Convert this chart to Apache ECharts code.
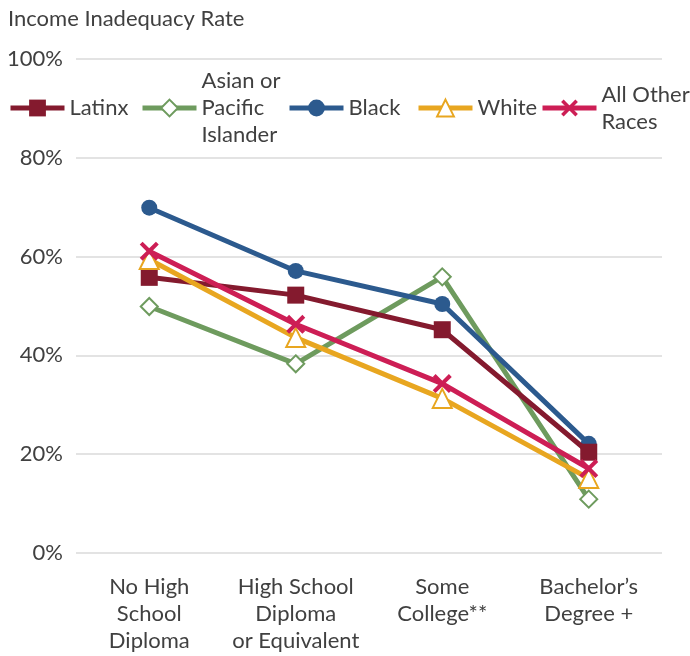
<!DOCTYPE html>
<html>
<head>
<meta charset="utf-8">
<script src="https://cdn.jsdelivr.net/npm/echarts@6/dist/echarts.min.js"></script>
<style>
  html, body { margin: 0; padding: 0; background: #fff; }
  #chart { width: 690px; height: 656px; }
</style>
</head>
<body>
<div id="chart"></div>
<script>
// Education levels along the x axis
const categories = [
  'No High\nSchool\nDiploma',
  'High School\nDiploma\nor Equivalent',
  'Some\nCollege**',
  'Bachelor\u2019s\nDegree +'
];

// Income inadequacy rate (%) by race/ethnicity
const latinx = [55.8, 52.2, 45.2, 20.4];
const asianPacificIslander = [49.9, 38.3, 55.9, 10.9];
const black = [69.9, 57.1, 50.4, 22.1];
const white = [59.4, 43.6, 31.3, 15.1];
const allOtherRaces = [61.1, 46.3, 34.3, 17.1];

const yTicks = [0, 20, 40, 60, 80, 100];

// Legend entries, in display order, with their wrapped labels
const legendOrder = ['Latinx', 'Asian or Pacific Islander', 'Black', 'White', 'All Other Races'];
const legendLabels = ['Latinx', 'Asian or\nPacific\nIslander', 'Black', 'White', 'All Other\nRaces'];
const legendHollow = [false, true, false, true, false];

const FONT = 'Lato, "Noto Sans", sans-serif';
const TEXT = '#404040';
const FS = 22;
const LH = 27;

const crossPath = 'path://M3,0 L10,7 L17,0 L20,3 L13,10 L20,17 L17,20 L10,13 L3,20 L0,17 L7,10 L0,3 Z';

function lineSeries(name, data, color, symbol, size, extra) {
  return Object.assign({
    name: name,
    type: 'line',
    data: data,
    symbol: symbol,
    symbolSize: size,
    showAllSymbol: true,
    lineStyle: { color: color, width: 5 },
    itemStyle: { color: color, borderWidth: 0 },
    emphasis: { disabled: true },
    animation: false
  }, extra || {});
}

// One legend block per entry so each can sit at its own spot on the row
const legendLeft = [8, 140, 287, 416, 540];
const ICON_MID = 108;
const legends = legendOrder.map(function (name, i) {
  const lines = legendLabels[i].split('\n').length;
  const lg = {
    data: [name],
    left: legendLeft[i],
    top: ICON_MID - (lines * LH) / 2,
    padding: 0,
    itemWidth: 54,
    itemHeight: 21,
    selectedMode: false,
    formatter: function () { return legendLabels[i]; },
    lineStyle: { width: 5 },
    textStyle: { fontFamily: FONT, fontSize: FS, color: TEXT, lineHeight: LH }
  };
  if (legendHollow[i]) lg.itemStyle = { borderWidth: 2.5 };
  return lg;
});

const chart = echarts.init(document.getElementById('chart'), null, { renderer: 'canvas' });

chart.setOption({
  backgroundColor: '#fff',
  textStyle: { fontFamily: FONT },
  title: {
    text: 'Income Inadequacy Rate',
    left: 6,
    top: 6,
    padding: [2, 2],
    textStyle: { fontFamily: FONT, fontSize: FS, fontWeight: 'normal', color: TEXT }
  },
  legend: legends,
  grid: {
    left: 76,
    right: 28,
    top: 59,
    bottom: 103,
    containLabel: false,
    outerBoundsMode: 'none'
  },
  xAxis: {
    type: 'category',
    data: categories,
    boundaryGap: true,
    axisLine: { show: false },
    axisTick: { show: false },
    axisLabel: {
      margin: 20,
      fontFamily: FONT,
      fontSize: FS,
      color: TEXT,
      lineHeight: LH,
      align: 'center',
      verticalAlign: 'top',
      interval: 0
    }
  },
  yAxis: {
    type: 'value',
    min: yTicks[0],
    max: yTicks[yTicks.length - 1],
    interval: 20,
    axisLine: { show: false },
    axisTick: { show: false },
    splitLine: { lineStyle: { color: '#e3e3e3', width: 2 } },
    axisLabel: {
      margin: 13,
      fontFamily: FONT,
      fontSize: FS,
      color: TEXT,
      formatter: function (v) { return v + '%'; }
    }
  },
  series: [
    lineSeries('Asian or Pacific Islander', asianPacificIslander, '#6e9b5e', 'emptyDiamond', 17,
      { itemStyle: { color: '#6e9b5e', borderWidth: 2.5 }, z: 2 }),
    lineSeries('Black', black, '#2c5a8e', 'circle', 16, { z: 3 }),
    lineSeries('Latinx', latinx, '#841a2e', 'rect', 17, { z: 4 }),
    lineSeries('White', white, '#e8a620', 'emptyTriangle', 19,
      { itemStyle: { color: '#e8a620', borderWidth: 2.5 }, z: 5 }),
    lineSeries('All Other Races', allOtherRaces, '#cd1e55', crossPath, 19, { z: 6 })
  ]
});
</script>
</body>
</html>
